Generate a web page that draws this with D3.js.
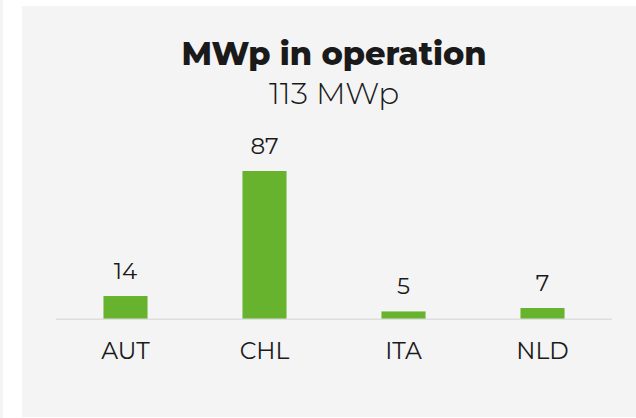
<!DOCTYPE html>
<html>
<head>
<meta charset="utf-8">
<script src="https://cdn.jsdelivr.net/npm/d3@7"></script>
<style>
  html, body { margin: 0; padding: 0; background: #ffffff; }
  svg { display: block; }
  text { font-family: "Montserrat", "Inter", sans-serif; fill: #1a1a1a; }
</style>
</head>
<body>
<svg id="chart" width="636" height="418"></svg>
<script>
const categories = ["AUT", "CHL", "ITA", "NLD"];
const values = [14, 87, 5, 7];
const title = "MWp in operation";
const subtitle = "113 MWp";

const W = 636, H = 418;
const svg = d3.select("#chart");

// page background strips
svg.append("rect").attr("x", 0).attr("y", 0).attr("width", 3).attr("height", H).attr("fill", "#f4f4f4");
svg.append("rect").attr("x", 22).attr("y", 6).attr("width", W - 22).attr("height", 411).attr("fill", "#f4f4f4");

const x = d3.scaleBand()
  .domain(categories)
  .range([56, 612])
  .paddingInner(0.683)
  .paddingOuter(0.3415);

const y = d3.scaleLinear()
  .domain([0, 87])
  .range([320, 171]);

const cx = 334;

svg.append("text")
  .attr("x", cx).attr("y", 65)
  .attr("text-anchor", "middle")
  .attr("font-size", 32)
  .attr("font-weight", 800)
  .attr("fill", "#111111")
  .text(title);

svg.append("text")
  .attr("x", cx).attr("y", 104)
  .attr("text-anchor", "middle")
  .attr("font-size", 31)
  .attr("font-weight", 300)
  .text(subtitle);

const data = categories.map((c, i) => ({ c, v: values[i] }));

svg.append("g").selectAll("rect")
  .data(data)
  .join("rect")
  .attr("x", d => x(d.c))
  .attr("width", x.bandwidth())
  .attr("y", d => y(d.v))
  .attr("height", d => y(0) - y(d.v))
  .attr("fill", "#67b32e");

// axis
const axis = svg.append("g")
  .attr("transform", `translate(0,${y(0) - 0.8})`)
  .call(d3.axisBottom(x).tickSize(0).tickPadding(0));
axis.select(".domain").attr("stroke", "#dedede").attr("stroke-width", 1.6)
  .attr("d", "M56,0H612");
axis.selectAll(".tick text")
  .attr("y", 40)
  .attr("dy", 0)
  .attr("font-size", 23.5)
  .attr("font-family", null)
  .style("font-family", "Montserrat, Inter, sans-serif")
  .attr("fill", "#1a1a1a");

svg.append("g").selectAll("text")
  .data(data)
  .join("text")
  .attr("x", d => x(d.c) + x.bandwidth() / 2)
  .attr("y", d => y(d.v) - 17.5)
  .attr("text-anchor", "middle")
  .attr("font-size", 23)
  .text(d => d.v);
</script>
</body>
</html>
